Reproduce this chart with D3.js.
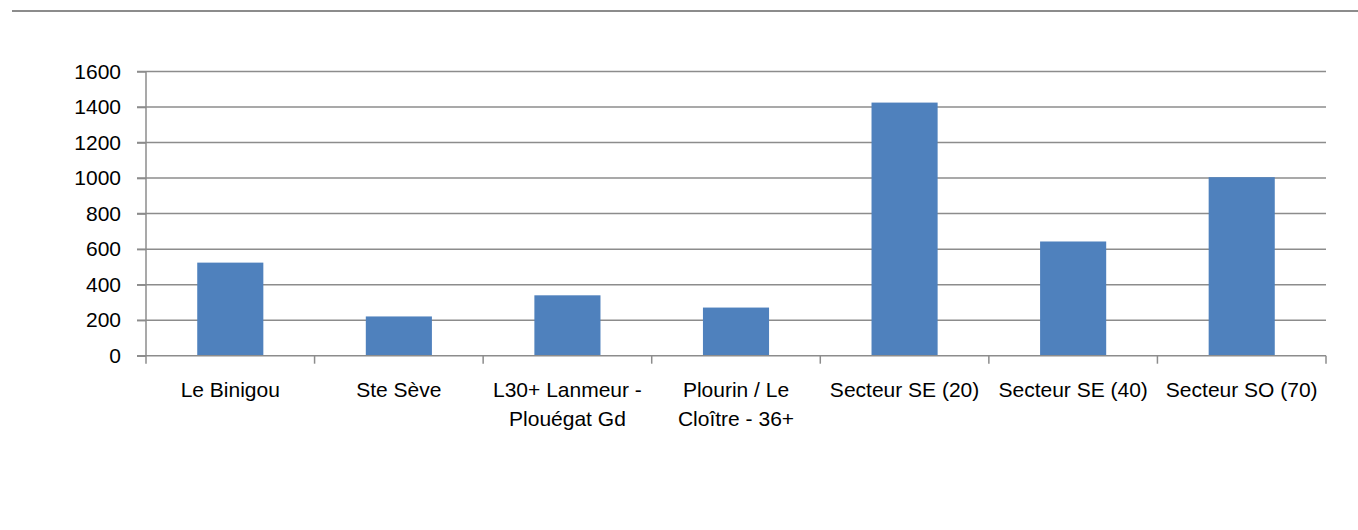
<!DOCTYPE html>
<html><head><meta charset="utf-8">
<script src="https://cdn.jsdelivr.net/npm/d3@7"></script>
<style>body{margin:0;background:#fff}svg{display:block}</style>
</head><body>
<svg id="c" width="1358" height="530"></svg>
<script>
const categories = [["Le Binigou"],["Ste Sève"],["L30+ Lanmeur -","Plouégat Gd"],["Plourin / Le","Cloître - 36+"],["Secteur SE (20)"],["Secteur SE (40)"],["Secteur SO (70)"]];
const values = [524, 221, 340, 271, 1425, 643, 1005];
const yTicks = [0,200,400,600,800,1000,1200,1400,1600];

(function(){
const svg = d3.select("#c");
const pLeft = 146, pRight = 1326, pTop = 71.5, pBottom = 355.7;
const font = "'Liberation Sans', Arial, sans-serif";
const fs = 21;

svg.append("line").attr("x1",12).attr("x2",1358).attr("y1",11).attr("y2",11)
  .attr("stroke","#8c8c8c").attr("stroke-width",2);

const x = d3.scaleBand().domain(d3.range(categories.length)).range([pLeft,pRight]).paddingInner(0).paddingOuter(0);
const y = d3.scaleLinear().domain([0,1600]).range([pBottom,pTop]);

// gridlines
svg.append("g").selectAll("line").data(yTicks.filter(d=>d>0)).join("line")
  .attr("x1",pLeft-9).attr("x2",pRight).attr("y1",d=>y(d)).attr("y2",d=>y(d))
  .attr("stroke","#8c8c8c").attr("stroke-width",1.5);

// y axis
const ya = svg.append("g").attr("transform",`translate(${pLeft},0)`)
  .call(d3.axisLeft(y).tickValues(yTicks).tickFormat(d3.format("d")).tickSize(9).tickPadding(16));
ya.selectAll("path,line").attr("stroke","#8c8c8c").attr("stroke-width",1.5);
ya.select(".domain").attr("d",`M0,${pTop}V${pBottom}`);
ya.selectAll("text").attr("font-family",font).attr("font-size",fs).attr("fill","#000");

// bars
const bw = x.bandwidth()/2.55;
svg.append("g").selectAll("rect").data(values).join("rect")
  .attr("x",(d,i)=>x(i)+x.bandwidth()/2-bw/2).attr("width",bw)
  .attr("y",d=>y(d)).attr("height",d=>y(0)-y(d)).attr("fill","#4f81bd");

// x axis
const xa = svg.append("g").attr("transform",`translate(0,${pBottom})`);
xa.append("line").attr("x1",pLeft-9).attr("x2",pRight).attr("stroke","#8c8c8c").attr("stroke-width",1.5);
xa.selectAll("line.tk").data(d3.range(categories.length+1)).join("line").attr("class","tk")
  .attr("x1",i=>pLeft+i*x.bandwidth()).attr("x2",i=>pLeft+i*x.bandwidth())
  .attr("y1",0).attr("y2",8).attr("stroke","#8c8c8c").attr("stroke-width",1.5);
const lab = xa.selectAll("text").data(categories).join("text")
  .attr("text-anchor","middle").attr("font-family",font).attr("font-size",fs).attr("fill","#000")
  .attr("transform",(d,i)=>`translate(${x(i)+x.bandwidth()/2},0)`);
lab.selectAll("tspan").data(d=>d).join("tspan").attr("x",0).attr("y",(d,j)=>41+j*29).text(d=>d);
})();
</script>
</body></html>
